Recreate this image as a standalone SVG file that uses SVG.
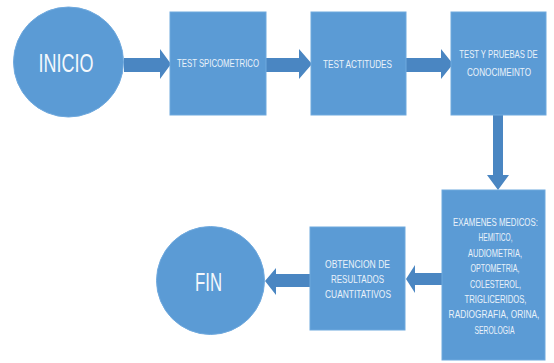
<svg xmlns="http://www.w3.org/2000/svg" width="554" height="363" viewBox="0 0 554 363">
<style>
.node{fill:#5B9BD5;stroke:#6FA9DE;stroke-width:1}
.arr{fill:#4A86C2}
.t{font-family:"Liberation Sans",Arial,sans-serif;font-size:10.5px;fill:#EAF2FA}
.big{font-family:"Liberation Sans",Arial,sans-serif;font-size:26px;fill:#F4F8FC}
</style>
<rect width="554" height="363" fill="#FFFFFF"/>
<g id="connectors">
<polygon class="arr" points="124,58 160,58 160,49 171,64 160,79 160,72 124,72"/>
<polygon class="arr" points="266,58 299,58 299,49 312,64 299,79 299,72 266,72"/>
<polygon class="arr" points="406,58 441,58 441,49 453,64 441,79 441,72 406,72"/>
<polygon class="arr" points="493,115 503,115 503,175 509,175 498,190 487,175 493,175"/>
<polygon class="arr" points="442,273 415,273 415,265 406,279 415,293 415,285 442,285"/>
<polygon class="arr" points="310,274 276,274 276,268 265,281 276,295 276,287 310,287"/>
</g>
<g id="inicio">
<circle class="node" cx="68.5" cy="62" r="55"/>
<text class="big" x="66" y="72" text-anchor="middle" textLength="55" lengthAdjust="spacingAndGlyphs">INICIO</text>
</g>
<g id="spicometrico">
<rect class="node" x="170" y="12" width="96" height="103"/>
<text class="t" x="218" y="67" text-anchor="middle" textLength="82" lengthAdjust="spacingAndGlyphs">TEST SPICOMETRICO</text>
</g>
<g id="actitudes">
<rect class="node" x="311" y="12" width="95" height="103"/>
<text class="t" x="357.5" y="68" text-anchor="middle" textLength="69" lengthAdjust="spacingAndGlyphs">TEST ACTITUDES</text>
</g>
<g id="conocimiento">
<rect class="node" x="451" y="12" width="95" height="103"/>
<text class="t" transform="translate(498.5,58) scale(0.736,1)" text-anchor="middle">TEST Y PRUEBAS DE</text>
<text class="t" x="499" y="76" text-anchor="middle" textLength="64" lengthAdjust="spacingAndGlyphs">CONOCIMEINTO</text>
</g>
<g id="examenes">
<rect class="node" x="442" y="190" width="103" height="170"/>
<g class="t" text-anchor="middle">
<text transform="translate(495.5,226) scale(0.751,1)">EXAMENES MEDICOS:</text>
<text x="495.5" y="241" textLength="34" lengthAdjust="spacingAndGlyphs">HEMITICO,</text>
<text x="495" y="257" textLength="54" lengthAdjust="spacingAndGlyphs">AUDIOMETRIA,</text>
<text x="495" y="272" textLength="49" lengthAdjust="spacingAndGlyphs">OPTOMETRIA,</text>
<text x="495.5" y="288" textLength="51" lengthAdjust="spacingAndGlyphs">COLESTEROL,</text>
<text x="495.5" y="303" textLength="62" lengthAdjust="spacingAndGlyphs">TRIGLICERIDOS,</text>
<text transform="translate(494,318) scale(0.795,1)">RADIOGRAFIA, ORINA,</text>
<text x="494.5" y="334" textLength="40" lengthAdjust="spacingAndGlyphs">SEROLOGIA</text>
</g>
</g>
<g id="obtencion">
<rect class="node" x="310" y="227" width="95" height="103"/>
<g class="t" text-anchor="middle">
<text x="357.5" y="268" textLength="65" lengthAdjust="spacingAndGlyphs">OBTENCION DE</text>
<text x="357.5" y="283" textLength="53" lengthAdjust="spacingAndGlyphs">RESULTADOS</text>
<text x="358" y="298" textLength="66" lengthAdjust="spacingAndGlyphs">CUANTITATIVOS</text>
</g>
</g>
<g id="fin">
<circle class="node" cx="210.5" cy="280.5" r="54"/>
<text class="big" x="208.5" y="291" text-anchor="middle" textLength="27" lengthAdjust="spacingAndGlyphs">FIN</text>
</g>
</svg>
